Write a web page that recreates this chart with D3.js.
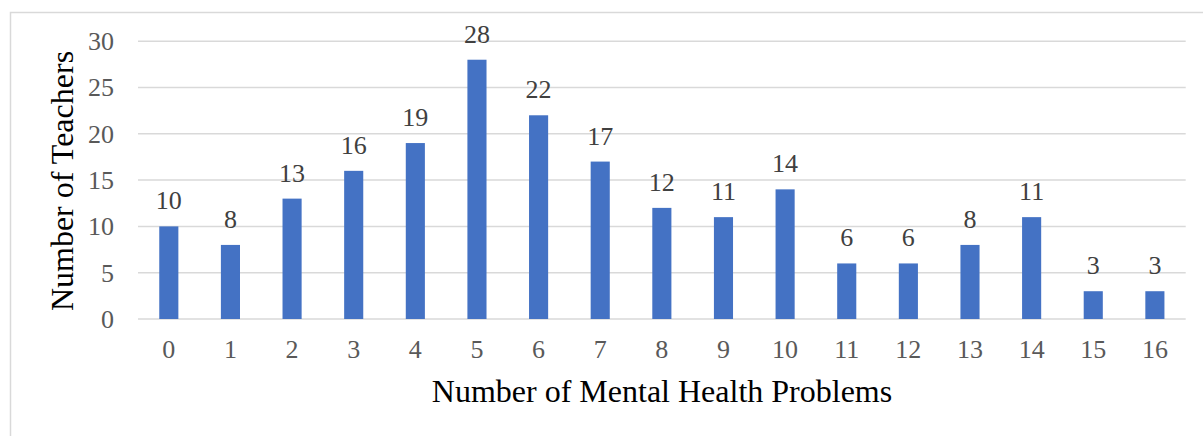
<!DOCTYPE html>
<html><head><meta charset="utf-8">
<script src="https://cdn.jsdelivr.net/npm/d3@7"></script>
<style>html,body{margin:0;padding:0;background:#fff;}svg{display:block;}
svg text{font-family:"Liberation Serif","DejaVu Serif",serif !important;}</style>
</head><body>
<svg id="c" width="1203" height="436"></svg>
<script>
const categories = ["0","1","2","3","4","5","6","7","8","9","10","11","12","13","14","15","16"];
const values = [10,8,13,16,19,28,22,17,12,11,14,6,6,8,11,3,3];
const yTicks = [0,5,10,15,20,25,30];
const xTitle = "Number of Mental Health Problems";
const yTitle = "Number of Teachers";

const svg = d3.select("#c");
svg.append("rect").attr("x",10.5).attr("y",12.5).attr("width",1200).attr("height",440)
  .attr("fill","#fff").attr("stroke","#d9d9d9").attr("stroke-width",1.5);

const x = d3.scaleBand().domain(categories).range([138,1185.7]).paddingInner(0.69).paddingOuter(0.345);
const y = d3.scaleLinear().domain([0,30]).range([319,41.2]);

const grid = svg.append("g");
grid.selectAll("line").data(yTicks).join("line")
  .attr("x1",138).attr("x2",1185.7)
  .attr("y1",d=>y(d)).attr("y2",d=>y(d))
  .attr("stroke","#d9d9d9").attr("stroke-width",1.5);

const yAxis = svg.append("g").attr("transform","translate(138,0)")
  .call(d3.axisLeft(y).tickValues(yTicks).tickSize(0).tickPadding(24));
yAxis.select(".domain").remove();
yAxis.selectAll("text").style("font-size","26px").attr("fill","#595959");

const xAxis = svg.append("g").attr("transform","translate(0,319)")
  .call(d3.axisBottom(x).tickSize(0).tickPadding(21));
xAxis.select(".domain").remove();
xAxis.selectAll("text").style("font-size","26px").attr("fill","#595959");

svg.append("g").selectAll("rect").data(values).join("rect")
  .attr("x",(d,i)=>x(categories[i])).attr("width",x.bandwidth())
  .attr("y",d=>y(d)).attr("height",d=>y(0)-y(d)).attr("fill","#4472C4");

svg.append("g").selectAll("text").data(values).join("text")
  .attr("x",(d,i)=>x(categories[i])+x.bandwidth()/2).attr("y",d=>y(d)-17)
  .attr("text-anchor","middle").style("font-size","26px").attr("fill","#404040")
  .text(d=>d);

svg.append("text").attr("x",662).attr("y",402).attr("text-anchor","middle")
  .style("font-size","32px").attr("fill","#000").text(xTitle);
svg.append("text").attr("transform","translate(73,181) rotate(-90)").attr("text-anchor","middle")
  .style("font-size","32px").attr("fill","#000").text(yTitle);
</script>
</body></html>
